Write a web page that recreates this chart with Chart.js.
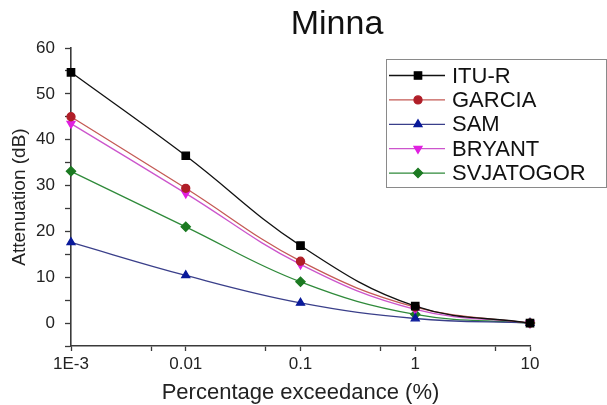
<!DOCTYPE html>
<html>
<head>
<meta charset="utf-8">
<script src="https://cdn.jsdelivr.net/npm/chart.js@4.4.1/dist/chart.umd.min.js"></script>
<style>
  html, body { margin: 0; padding: 0; background: #fff; }
  #wrap { width: 607px; height: 405px; }
</style>
</head>
<body>
<div id="wrap"><canvas id="chart" width="607" height="405"></canvas></div>
<script>
const percentages = [0.001, 0.01, 0.1, 1, 10];
const ituR = [54.7, 36.5, 16.9, 3.7, 0];
const garcia = [45.0, 29.4, 13.5, 3.5, 0];
const sam = [17.6, 10.4, 4.4, 1.0, 0];
const bryant = [43.5, 28.3, 12.8, 3.0, 0];
const svjatogor = [33.1, 21.0, 9.0, 1.9, 0];
const xTickValues = [0.001, 0.005, 0.01, 0.05, 0.1, 0.5, 1, 5, 10];
const xTickLabels = ["1E-3", "", "0.01", "", "0.1", "", "1", "", "10"];

const font = "'Liberation Sans', Arial, sans-serif";
const axisColor = "#3a3a3a";

const series = [
  { label: "ITU-R", values: ituR, line: "#111111", mark: "#000000", style: "rect", r: 5.2, rot: 0 },
  { label: "GARCIA", values: garcia, line: "#c45a55", mark: "#b01e28", style: "circle", r: 4, rot: 0 },
  { label: "SAM", values: sam, line: "#3a3f8a", mark: "#0a1a9a", style: "triangle", r: 4.6, rot: 0 },
  { label: "BRYANT", values: bryant, line: "#cc55cc", mark: "#e020e0", style: "triangle", r: 4.6, rot: 180 },
  { label: "SVJATOGOR", values: svjatogor, line: "#2f8a3a", mark: "#1c7a22", style: "rectRot", r: 4.6, rot: 0 },
];

const datasets = series.map((s) => ({
  label: s.label,
  data: percentages.map((p, i) => ({ x: p, y: s.values[i] })),
  borderColor: s.line,
  backgroundColor: s.mark,
  pointBackgroundColor: s.mark,
  pointBorderColor: s.mark,
  pointStyle: s.style,
  pointRotation: s.rot,
  pointRadius: s.r,
  borderWidth: 1.3,
  tension: 0.4,
  clip: false,
}));

function drawMarker(ctx, s, x, y) {
  if (Chart.helpers && Chart.helpers.drawPoint) {
    Chart.helpers.drawPoint(ctx, { pointStyle: s.style, radius: s.r, rotation: s.rot, borderWidth: 1 }, x, y);
    return;
  }
  ctx.beginPath();
  ctx.arc(x, y, s.r, 0, Math.PI * 2);
  ctx.fill();
}

const decorations = {
  id: "decorations",
  afterDraw(chart) {
    const ctx = chart.ctx;
    ctx.save();
    // title
    ctx.fillStyle = "#111";
    ctx.font = "34px " + font;
    ctx.textAlign = "center";
    ctx.textBaseline = "middle";
    ctx.fillText("Minna", 337, 25);

    // legend box
    ctx.strokeStyle = "#8a8a8a";
    ctx.lineWidth = 1;
    ctx.strokeRect(386.5, 59.5, 220, 128);
    ctx.font = "22px " + font;
    ctx.textAlign = "left";
    series.forEach((s, i) => {
      const y = 75.5 + i * 24.4;
      ctx.strokeStyle = s.line;
      ctx.lineWidth = 1.3;
      ctx.beginPath();
      ctx.moveTo(389, y);
      ctx.lineTo(445, y);
      ctx.stroke();
      ctx.fillStyle = s.mark;
      ctx.strokeStyle = s.mark;
      drawMarker(ctx, s, 418, y);
      ctx.fillStyle = "#111";
      ctx.fillText(s.label, 452, y + 1);
    });
    ctx.restore();
  },
};

const whiteBg = {
  id: "whiteBg",
  beforeDraw(chart) {
    const ctx = chart.ctx;
    ctx.save();
    ctx.fillStyle = "#fff";
    ctx.fillRect(0, 0, chart.width, chart.height);
    ctx.restore();
  },
};

new Chart(document.getElementById("chart"), {
  type: "line",
  data: { datasets },
  plugins: [whiteBg, decorations],
  options: {
    responsive: false,
    animation: false,
    layout: { padding: { top: 48, right: 77, bottom: 0, left: 0 } },
    plugins: {
      legend: { display: false },
      title: { display: false },
      tooltip: { enabled: false },
    },
    scales: {
      x: {
        type: "logarithmic",
        min: 0.001,
        max: 10,
        afterBuildTicks(scale) {
          scale.ticks = xTickValues.map((v) => ({ value: v }));
        },
        afterFit(scale) {
          scale.height = 59;
        },
        grid: { drawOnChartArea: false, drawTicks: true, tickLength: 5, color: axisColor, tickColor: axisColor, tickWidth: 1.3 },
        border: { display: true, color: axisColor, width: 1.6 },
        ticks: {
          autoSkip: false,
          maxRotation: 0,
          padding: 3,
          color: "#222",
          font: { family: font, size: 17 },
          callback(value) {
            const i = xTickValues.findIndex((v) => Math.abs(v - value) < v * 1e-6);
            return i >= 0 ? xTickLabels[i] : "";
          },
        },
        title: {
          display: true,
          text: "Percentage exceedance (%)",
          color: "#222",
          font: { family: font, size: 22, lineHeight: 1.0 },
          padding: { top: 0, bottom: 1 },
        },
      },
      y: {
        min: -5,
        max: 60,
        afterFit(scale) {
          scale.width = 71;
        },
        grid: { drawOnChartArea: false, drawTicks: true, tickLength: 6, color: axisColor, tickColor: axisColor, tickWidth: 1.3 },
        border: { display: true, color: axisColor, width: 1.6 },
        ticks: {
          stepSize: 5,
          autoSkip: false,
          padding: 10,
          color: "#222",
          font: { family: font, size: 17 },
          callback(value) {
            return value % 10 === 0 ? String(value) : "";
          },
        },
        title: {
          display: true,
          text: "Attenuation (dB)",
          color: "#222",
          font: { family: font, size: 19, lineHeight: 1.2 },
          padding: { top: 8, bottom: 0 },
        },
      },
    },
  },
});
</script>
</body>
</html>
